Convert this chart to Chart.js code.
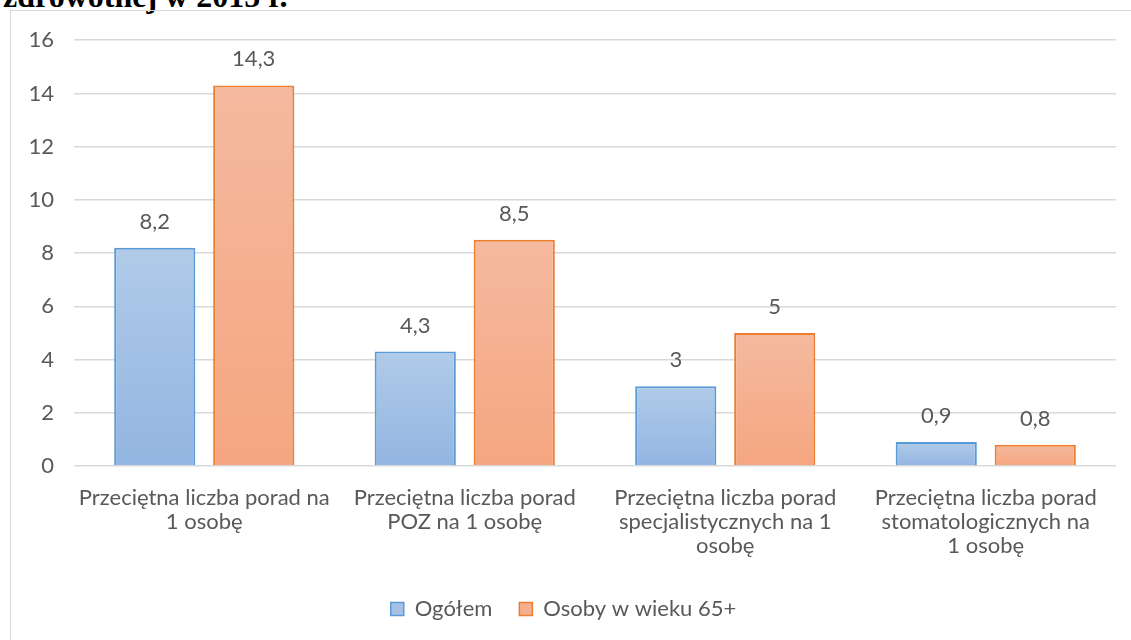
<!DOCTYPE html>
<html lang="pl">
<head>
<meta charset="utf-8">
<script src="https://cdn.jsdelivr.net/npm/chart.js@4.4.1/dist/chart.umd.min.js"></script>
<style>
    html, body { margin: 0; padding: 0; background: #fff; overflow: hidden; }
    body { width: 1131px; height: 640px; position: relative; }
    #title {
        position: absolute; left: 3px; top: -20px;
        font: bold 32px/32px "Liberation Serif", serif; color: #000; white-space: nowrap;
    }
    #box {
        position: absolute; left: 10px; top: 10px; width: 1140px; height: 700px;
        border: 1px solid #d9d9d9; box-sizing: border-box;
    }
    #wrap { position: absolute; left: 11px; top: 7px; width: 1120px; height: 660px; }
</style>
</head>
<body>
<div id="title">zdrowotnej w 2015 r.</div>
<div id="box"></div>
<div id="wrap"><canvas id="chart"></canvas></div>
<script>
// Dane wykresu
const categories = [
    ['Przeciętna liczba porad na', '1 osobę'],
    ['Przeciętna liczba porad', 'POZ na 1 osobę'],
    ['Przeciętna liczba porad', 'specjalistycznych na 1', 'osobę'],
    ['Przeciętna liczba porad', 'stomatologicznych na', '1 osobę']
];
const seriesNames = ['Ogółem', 'Osoby w wieku 65+'];
const valuesTotal = [8.2, 4.3, 3, 0.9];
const valuesSenior = [14.3, 8.5, 5, 0.8];
const yTicks = [0, 2, 4, 6, 8, 10, 12, 14, 16];

const TEXT_COLOR = '#595959';
const FONT = 'Lato';
const FONT_SIZE = 22;

// Gradient dla każdego słupka osobno
function barGradient(top, bottom) {
    return function(ctx) {
        const chart = ctx.chart;
        const y = chart.scales.y;
        if (!y || ctx.raw === undefined) return bottom;
        const yTop = y.getPixelForValue(ctx.raw);
        const yBase = y.getPixelForValue(0);
        if (!isFinite(yTop) || !isFinite(yBase) || yTop === yBase) return bottom;
        const g = chart.ctx.createLinearGradient(0, yTop, 0, yBase);
        g.addColorStop(0, top);
        g.addColorStop(1, bottom);
        return g;
    };
}

// Etykiety wartości nad słupkami
const valueLabels = {
    id: 'valueLabels',
    afterDatasetsDraw(chart) {
        const ctx = chart.ctx;
        ctx.save();
        ctx.font = FONT_SIZE + 'px ' + FONT;
        ctx.fillStyle = TEXT_COLOR;
        ctx.textAlign = 'center';
        ctx.textBaseline = 'alphabetic';
        chart.data.datasets.forEach((ds, i) => {
            chart.getDatasetMeta(i).data.forEach((bar, j) => {
                const txt = String(ds.data[j]).replace('.', ',');
                ctx.fillText(txt, bar.x, bar.y - 19);
            });
        });
        ctx.restore();
    }
};

new Chart(document.getElementById('chart').getContext('2d'), {
    type: 'bar',
    data: {
        labels: categories,
        datasets: [
            {
                label: seriesNames[0],
                data: valuesTotal,
                backgroundColor: barGradient('#b1cbe9', '#92b5e1'),
                borderColor: '#5b9bd5',
                borderWidth: 2,
                categoryPercentage: 0.76,
                barPercentage: 0.82
            },
            {
                label: seriesNames[1],
                data: valuesSenior,
                backgroundColor: barGradient('#f5b99f', '#f5a680'),
                borderColor: '#ed7d31',
                borderWidth: 2,
                categoryPercentage: 0.76,
                barPercentage: 0.82
            }
        ]
    },
    options: {
        responsive: true,
        maintainAspectRatio: false,
        animation: false,
        layout: { padding: { top: 21, right: 15, bottom: 37, left: 0 } },
        plugins: {
            tooltip: { enabled: false },
            legend: {
                position: 'bottom',
                labels: {
                    color: TEXT_COLOR,
                    font: { family: FONT, size: FONT_SIZE },
                    boxWidth: 13,
                    boxHeight: 13,
                    padding: 27,
                    generateLabels(chart) {
                        const fills = ['#a5c2e6', '#f5af90'];
                        return Chart.defaults.plugins.legend.labels.generateLabels(chart).map((item, i) => {
                            item.fillStyle = fills[i];
                            item.lineWidth = 1.5;
                            return item;
                        });
                    }
                }
            }
        },
        scales: {
            x: {
                grid: { display: false, drawTicks: false },
                border: { display: false },
                ticks: {
                    color: TEXT_COLOR,
                    font: { family: FONT, size: FONT_SIZE, lineHeight: 24 / FONT_SIZE },
                    padding: 20,
                    maxRotation: 0,
                    autoSkip: false
                },
                afterFit(scale) { scale.height = 105; }
            },
            y: {
                min: 0,
                max: 16,
                afterBuildTicks(scale) { scale.ticks = yTicks.map(v => ({ value: v })); },
                grid: { color: '#d9d9d9', lineWidth: 1.5, drawTicks: false },
                border: { display: false },
                ticks: {
                    color: TEXT_COLOR,
                    font: { family: FONT, size: FONT_SIZE },
                    padding: 20
                },
                afterFit(scale) { scale.width = 63; }
            }
        }
    },
    plugins: [valueLabels]
});
</script>
</body>
</html>
